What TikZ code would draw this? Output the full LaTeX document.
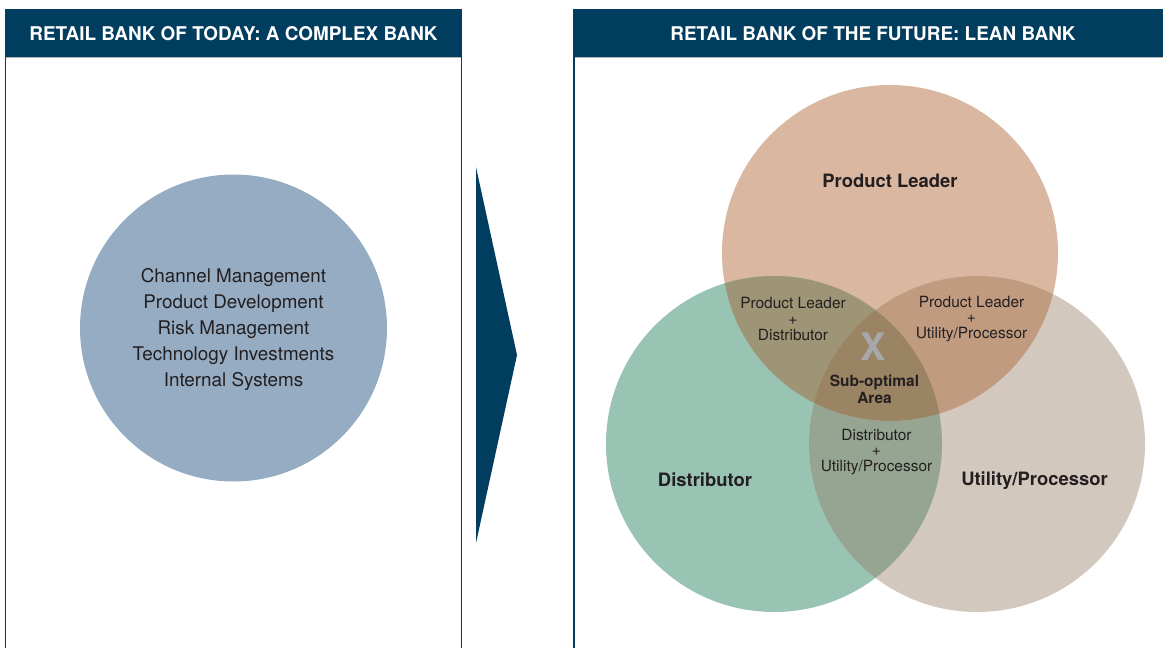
\documentclass[tikz,border=0pt]{standalone}
\usepackage{fontspec}
\setmainfont{TeX Gyre Heros}
\usepackage{tikz}

\definecolor{navy}{HTML}{003D5E}
\definecolor{ink}{HTML}{231F20}
\definecolor{todaycol}{HTML}{96ACC3}
\definecolor{plcol}{HTML}{D9B7A1}
\definecolor{dicol}{HTML}{99C3B3}
\definecolor{utcol}{HTML}{D3C8BE}
\definecolor{pldicol}{HTML}{9E9576}
\definecolor{plutcol}{HTML}{C09B7F}
\definecolor{diutcol}{HTML}{96A592}
\definecolor{allcol}{HTML}{9A8463}
\definecolor{xcol}{HTML}{A8A8AC}

\begin{document}
\begin{tikzpicture}[x=1bp, y=-1bp]
                  \tikzstyle{header}=[fill=navy]
                  \tikzstyle{frame}=[draw=navy, line width=1.1bp]
                  \tikzstyle{htext}=[text=white, font=\fontsize{19}{22}\selectfont\bfseries]
                  \tikzstyle{list}=[text=ink, align=center, font=\fontsize{18.9}{26}\selectfont]
                  \tikzstyle{big}=[text=ink, font=\fontsize{18.5}{22}\selectfont\bfseries]
                  \tikzstyle{small}=[text=ink, align=center, font=\fontsize{15.5}{16}\selectfont]

                  \useasboundingbox (0,0) rectangle (1163,648);

                  \fill[header] (5.5,10) rectangle (461.5,57.5);
                  \fill[header] (574,10) rectangle (1163,57.5);
                  \draw[gray!60, line width=0.8bp] (6,57.5) -- (461,57.5);
                  \draw[gray!60, line width=0.8bp] (574.5,57.5) -- (1163,57.5);
                  \draw[frame] (5.5,648) -- (5.5,10) -- (461.5,10) -- (461.5,648);
                  \draw[frame] (574,648) -- (574,10) -- (1163,10);
                  \node[htext] (today) at (233.5,34) {RETAIL BANK OF TODAY: A COMPLEX BANK};
                  \node[htext] (future) at (873,34) {RETAIL BANK OF THE FUTURE: LEAN BANK};

                  \fill[navy] (476,167) -- (517,355) -- (476,543) -- cycle;

                  \fill[todaycol] (233.5,328) circle[radius=153.5bp];
                  \node[list] (tasks) at (233.5,329.5) {Channel Management\\Product Development\\Risk Management\\Technology Investments\\Internal Systems};

                  \coordinate (pl) at (890,253);
                  \coordinate (di) at (774,444);
                  \coordinate (ut) at (977,444);

                  \fill[plcol] (pl) circle[radius=168bp];
                  \fill[dicol] (di) circle[radius=168bp];
                  \fill[utcol] (ut) circle[radius=168bp];
                  \begin{scope}
                    \clip (pl) circle[radius=168bp];
                    \fill[pldicol] (di) circle[radius=168bp];
                    \fill[plutcol] (ut) circle[radius=168bp];
                    \clip (di) circle[radius=168bp];
                    \fill[allcol] (ut) circle[radius=168bp];
                  \end{scope}
                  \begin{scope}[even odd rule]
                    \clip (di) circle[radius=168bp];
                    \clip (pl) circle[radius=168bp] (0,0) rectangle (1163,648);
                    \fill[diutcol] (ut) circle[radius=168bp];
                  \end{scope}

                  \node[big] (plname) at (890,181) {Product Leader};
                  \node[big] (diname) at (705,479.5) {Distributor};
                  \node[big] (utname) at (1034.5,481) {Utility/Processor};
                  \node[small] (pldi) at (793,319) {Product Leader\\+\\Distributor};
                  \node[small] (plut) at (971.5,319) {Product Leader\\+\\Utility/Processor};
                  \node[small] (diut) at (876.5,452) {Distributor\\+\\Utility/Processor};
                  \node[text=xcol, font=\fontsize{38}{40}\selectfont\bfseries] (cross) at (873,347) {X};
                  \node[small, font=\fontsize{15.5}{16.5}\selectfont\bfseries] (suboptimal) at (874.5,389.5) {Sub-optimal\\Area};
                \end{tikzpicture}
\end{document}
